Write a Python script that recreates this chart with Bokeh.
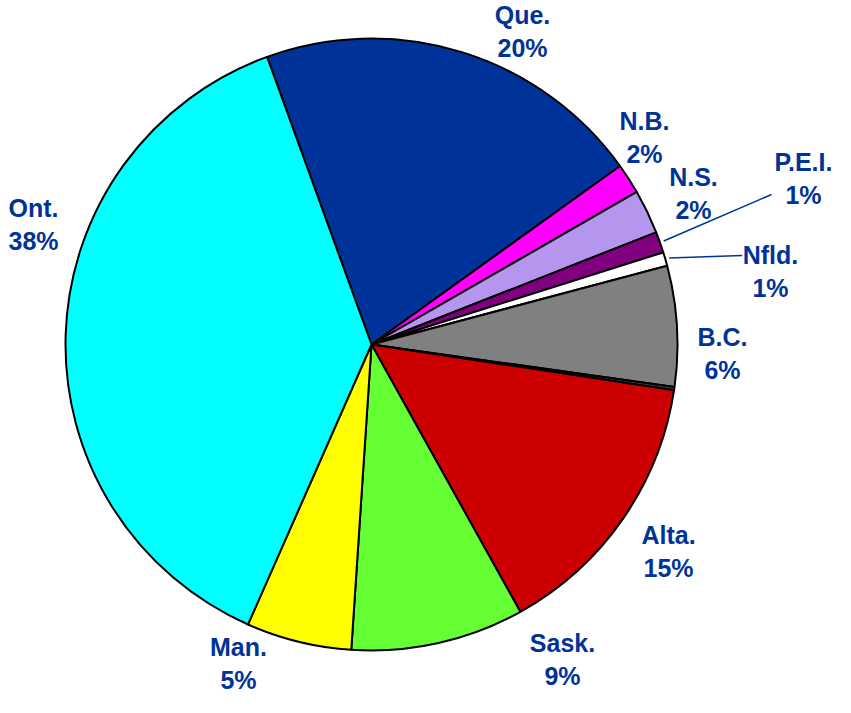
import math
from bokeh.plotting import figure
from bokeh.models import Range1d, ColumnDataSource
from bokeh.core.properties import value
from bokeh.embed import file_html
from bokeh.resources import INLINE

# ---------------- data ----------------
provinces = ["Que.", "N.B.", "N.S.", "P.E.I.", "Nfld.", "B.C.", "Terr.",
             "Alta.", "Sask.", "Man.", "Ont."]
shares = [20.63, 1.61, 2.33, 1.11, 0.72, 6.36, 0.17, 14.53, 9.14, 5.56, 37.85]
pct_labels = ["20%", "2%", "2%", "1%", "1%", "6%", "", "15%", "9%", "5%", "38%"]
colors = ["#003399", "#FF00FF", "#B496EE", "#800080", "#FFFFFF", "#808080",
          "#404040", "#CC0000", "#66FF33", "#FFFF00", "#00FFFF"]

# ---------------- layout ----------------
W, H = 835, 697
CX, CY = 371, 344          # pie centre inside the plot, px from left / top
R = 306
START_DEG = -19.95         # first slice starts here, clockwise from 12 o'clock
LINE_GAP = 33.5
TEXT_DY = 9                # compensates the renderer's baseline placement
TEXT_COLOR = "#003399"
# name-line baseline centres, relative to pie centre (px, y up)
label_pos = {
    "Que.": (151, 321), "N.B.": (273, 215), "N.S.": (322, 159),
    "P.E.I.": (432, 174), "Nfld.": (399, 81), "B.C.": (351, -1),
    "Alta.": (297, -199), "Sask.": (191, -307), "Man.": (-133, -311),
    "Ont.": (-338, 128),
}
# leader line end points (relative to pie centre)
leader_end = {"P.E.I.": (400, 150), "Nfld.": (370.7, 89)}

p = figure(width=W, height=H, output_backend="svg", toolbar_location=None,
           x_range=Range1d(-CX, W - CX), y_range=Range1d(CY - H, CY),
           x_axis_location=None, y_axis_location=None, min_border=0,
           outline_line_color=None, background_fill_color="white",
           border_fill_color="white")
p.grid.visible = False

total = sum(shares)
starts, ends, mids = [], [], []
acc = 0.0
for s in shares:
    t0 = START_DEG + 360.0 * acc / total
    t1 = START_DEG + 360.0 * (acc + s) / total
    acc += s
    starts.append(math.radians(90 - t1))
    ends.append(math.radians(90 - t0))
    mids.append((t0 + t1) / 2)

src = ColumnDataSource(dict(start=starts, end=ends, color=colors))
p.wedge(x=0, y=0, radius=R, start_angle="start", end_angle="end",
        direction="anticlock", fill_color="color", line_color="black",
        line_width=2, source=src)

# leader lines
for name, (ex, ey) in leader_end.items():
    i = provinces.index(name)
    th = math.radians(mids[i])
    sx, sy = (R + 4) * math.sin(th), (R + 4) * math.cos(th)
    p.segment(x0=[sx], y0=[sy], x1=[ex], y1=[ey], line_color=TEXT_COLOR,
              line_width=1.5)

lx, ly, lt, px_, py_, pt = [], [], [], [], [], []
for name, pct in zip(provinces, pct_labels):
    if name not in label_pos:
        continue
    x, y = label_pos[name]
    lx.append(x); ly.append(y + TEXT_DY); lt.append(name)
    px_.append(x); py_.append(y + TEXT_DY - LINE_GAP); pt.append(pct)

for xs, ys, ts in ((lx, ly, lt), (px_, py_, pt)):
    p.text(x=xs, y=ys, text=ts, text_align="center", text_baseline="alphabetic",
           text_font=value("Liberation Sans"), text_font_style="bold",
           text_font_size="25px", text_color=TEXT_COLOR)

open("out.html", "w").write(file_html(p, INLINE))
